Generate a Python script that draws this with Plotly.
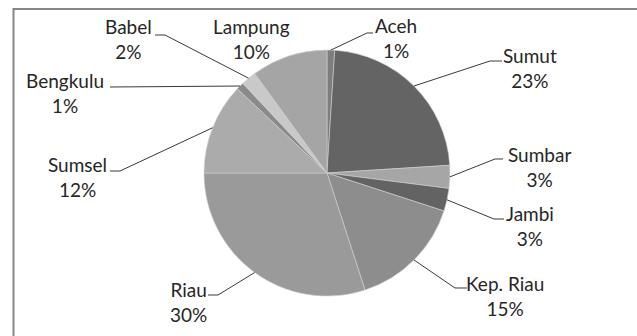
import math
import plotly.graph_objects as go

# Regional shares (percent)
regions = ["Aceh", "Sumut", "Sumbar", "Jambi", "Kep. Riau",
           "Riau", "Sumsel", "Bengkulu", "Babel", "Lampung"]
shares = [1, 23, 3, 3, 15, 30, 12, 1, 2, 10]
slice_colors = ["#7d7d7d", "#646464", "#a6a6a6", "#636363", "#8d8d8d",
                "#9a9a9a", "#ababab", "#8a8a8a", "#c9c9c9", "#a5a5a5"]

W, H = 637, 336
CX, CY, R = 327, 173, 123  # pie centre and radius in pixels

# Label block centres and leader-line elbow/end points (pixels)
label_pos = {
    "Aceh": (396, 38), "Sumut": (530, 68), "Sumbar": (539, 167),
    "Jambi": (530, 226), "Kep. Riau": (505, 296), "Riau": (188, 302),
    "Sumsel": (77, 177), "Bengkulu": (65, 93), "Babel": (128, 39),
    "Lampung": (251, 39),
}
leader_pts = {
    "Aceh": [(367, 33), (373, 33)],
    "Sumut": [(490, 61), (502, 61)],
    "Sumbar": [(495, 159), (503, 159)],
    "Jambi": [(494, 219), (504, 219)],
    "Kep. Riau": [(455, 288), (467, 288)],
    "Riau": [(218, 295), (208, 295)],
    "Sumsel": [(120, 171), (110, 171)],
    "Bengkulu": [(110, 87)],
    "Babel": [(165, 35), (155, 35)],
}


def px(x):
    return x / W


def py(y):
    return 1 - y / H


fig = go.Figure(go.Pie(
    labels=regions, values=shares, sort=False, direction="clockwise",
    rotation=0, textinfo="none", hoverinfo="label+percent",
    marker=dict(colors=slice_colors, line=dict(color="#d0d0d0", width=0.6)),
    domain=dict(x=[px(CX - R), px(CX + R)], y=[py(CY + R), py(CY - R)]),
    showlegend=False,
))

shapes = []
annotations = []
total = sum(shares)
cum = 0
for name, val in zip(regions, shares):
    mid = (cum + val / 2) / total * 2 * math.pi
    cum += val
    sx = CX + R * math.sin(mid)
    sy = CY - R * math.cos(mid)
    if name in leader_pts:
        pts = [(sx, sy)] + leader_pts[name]
        path = "M " + " L ".join(f"{px(x):.5f},{py(y):.5f}" for x, y in pts)
        shapes.append(dict(type="path", path=path, xref="paper", yref="paper",
                           line=dict(color="#3a3a3a", width=1)))
    lx, ly = label_pos[name]
    annotations.append(dict(
        x=px(lx), y=py(ly), xref="paper", yref="paper",
        text=f"{name}<br>{val}%", showarrow=False,
        xanchor="center", yanchor="middle", align="center",
        font=dict(family="Lato", size=19, color="#262626"),
    ))

# Chart frame (left and top edges)
frame = f"M {px(13.5):.5f},0 L {px(13.5):.5f},{py(9):.5f} L 1,{py(9):.5f}"
shapes.append(dict(type="path", path=frame, xref="paper", yref="paper",
                   line=dict(color="#878787", width=2)))

fig.update_layout(
    width=W, height=H, margin=dict(l=0, r=0, t=0, b=0),
    paper_bgcolor="white", plot_bgcolor="white",
    shapes=shapes, annotations=annotations,
)

fig.write_html("out.html")
